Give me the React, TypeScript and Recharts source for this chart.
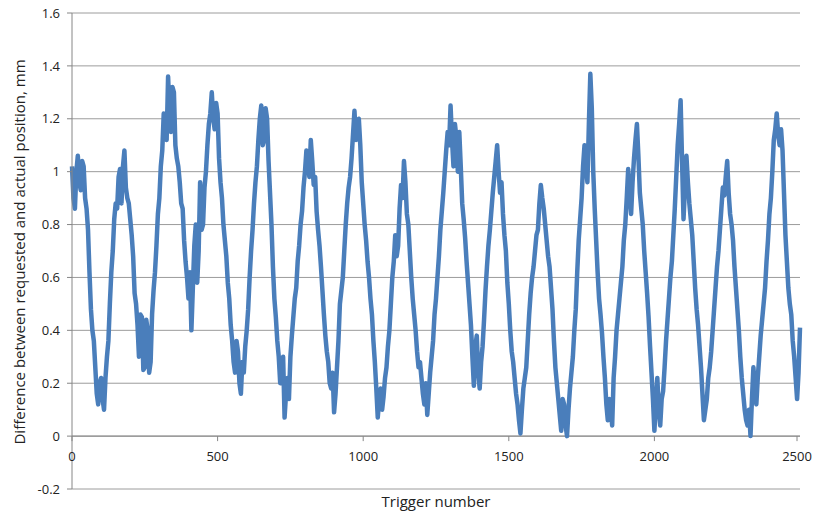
import { LineChart, Line, XAxis, YAxis, CartesianGrid } from 'recharts'

// ────────────────────────────────────────────────────────────────────────────
// Data — position error per trigger
// diffMm: readings at triggers 0, 10, 20 … 2500
// diffMidMm: readings in between, at triggers 5, 15, 25 … 2495
// ────────────────────────────────────────────────────────────────────────────

const TRIGGER_STEP = 10

// prettier-ignore
const diffMm = [
  1.02, 0.86, 1.06, 0.93, 1.02, 0.86, 0.62, 0.40, 0.26, 0.12, // 0
  0.22, 0.10, 0.30, 0.50, 0.70, 0.88, 0.98, 0.88, 1.08, 0.90, // 100
  0.82, 0.68, 0.50, 0.30, 0.45, 0.26, 0.40, 0.28, 0.55, 0.72, // 200
  0.90, 1.08, 1.18, 1.36, 1.15, 1.30, 1.05, 0.96, 0.86, 0.66, // 300
  0.52, 0.40, 0.72, 0.58, 0.96, 0.80, 1.00, 1.18, 1.30, 1.16, // 400
  1.22, 0.96, 0.80, 0.68, 0.52, 0.36, 0.24, 0.32, 0.16, 0.24, // 500
  0.40, 0.60, 0.78, 0.96, 1.12, 1.25, 1.12, 1.20, 0.92, 0.64, // 600
  0.45, 0.30, 0.22, 0.07, 0.22, 0.30, 0.45, 0.56, 0.72, 0.85, // 700
  1.00, 1.06, 1.12, 0.95, 0.85, 0.72, 0.55, 0.38, 0.28, 0.18, // 800
  0.09, 0.26, 0.50, 0.60, 0.80, 0.94, 1.05, 1.23, 1.18, 1.10, // 900
  0.88, 0.74, 0.60, 0.46, 0.28, 0.07, 0.18, 0.15, 0.26, 0.40, // 1000
  0.60, 0.76, 0.72, 0.95, 1.04, 0.84, 0.70, 0.52, 0.40, 0.26, // 1100
  0.22, 0.12, 0.08, 0.24, 0.36, 0.52, 0.68, 0.85, 1.00, 1.15, // 1200
  1.25, 1.02, 1.13, 1.15, 0.88, 0.75, 0.58, 0.42, 0.19, 0.38, // 1300
  0.18, 0.34, 0.55, 0.72, 0.85, 0.98, 1.10, 0.92, 0.84, 0.70, // 1400
  0.50, 0.32, 0.22, 0.12, 0.01, 0.18, 0.26, 0.46, 0.60, 0.70, // 1500
  0.78, 0.95, 0.86, 0.74, 0.64, 0.48, 0.26, 0.14, 0.02, 0.12, // 1600
  0.00, 0.18, 0.30, 0.48, 0.74, 0.90, 1.10, 0.96, 1.37, 1.00, // 1700
  0.74, 0.52, 0.39, 0.22, 0.06, 0.10, 0.22, 0.40, 0.52, 0.64, // 1800
  0.80, 1.01, 0.84, 1.05, 1.18, 0.92, 0.80, 0.62, 0.45, 0.24, // 1900
  0.02, 0.22, 0.04, 0.17, 0.36, 0.52, 0.66, 0.86, 1.10, 1.27, // 2000
  0.82, 1.06, 0.88, 0.76, 0.56, 0.42, 0.26, 0.06, 0.14, 0.26, // 2100
  0.40, 0.56, 0.70, 0.86, 0.91, 1.04, 0.84, 0.74, 0.56, 0.40, // 2200
  0.22, 0.10, 0.04, 0.00, 0.26, 0.12, 0.30, 0.44, 0.56, 0.74, // 2300
  0.90, 1.12, 1.22, 1.10, 1.08, 0.76, 0.56, 0.46, 0.30, 0.14, // 2400
  0.41,                                                       // 2500
]

// prettier-ignore
const diffMidMm = [
  0.90, 1.00, 0.96, 1.04, 0.90, 0.78, 0.48, 0.36, 0.16, 0.20, // 5
  0.14, 0.22, 0.36, 0.62, 0.82, 0.86, 1.01, 1.02, 0.94, 0.88, // 105
  0.76, 0.54, 0.42, 0.46, 0.25, 0.44, 0.24, 0.46, 0.62, 0.84, // 205
  1.02, 1.22, 1.12, 1.22, 1.32, 1.10, 1.02, 0.88, 0.74, 0.60, // 305
  0.62, 0.56, 0.80, 0.70, 0.78, 0.94, 1.10, 1.22, 1.20, 1.26, // 405
  1.05, 0.90, 0.74, 0.58, 0.42, 0.28, 0.36, 0.20, 0.28, 0.34, // 505
  0.48, 0.70, 0.88, 1.02, 1.20, 1.10, 1.24, 1.04, 0.80, 0.52, // 605
  0.36, 0.20, 0.30, 0.16, 0.14, 0.38, 0.52, 0.66, 0.80, 0.94, // 705
  1.08, 0.98, 1.04, 0.98, 0.78, 0.64, 0.46, 0.32, 0.20, 0.24, // 805
  0.16, 0.36, 0.55, 0.70, 0.88, 0.98, 1.14, 1.12, 1.20, 0.96, // 905
  0.80, 0.66, 0.52, 0.36, 0.18, 0.14, 0.10, 0.22, 0.34, 0.50, // 1005
  0.66, 0.68, 0.86, 0.90, 0.96, 0.80, 0.60, 0.46, 0.32, 0.28, // 1105
  0.16, 0.20, 0.16, 0.30, 0.46, 0.60, 0.78, 0.92, 1.08, 1.10, // 1205
  1.12, 1.18, 1.00, 1.02, 0.82, 0.66, 0.50, 0.30, 0.34, 0.24, // 1305
  0.28, 0.44, 0.64, 0.78, 0.92, 1.04, 1.00, 0.96, 0.76, 0.58, // 1405
  0.40, 0.28, 0.16, 0.06, 0.10, 0.22, 0.36, 0.54, 0.64, 0.76, // 1505
  0.88, 0.90, 0.80, 0.68, 0.56, 0.36, 0.20, 0.08, 0.14, 0.04, // 1605
  0.10, 0.24, 0.40, 0.62, 0.82, 1.02, 1.02, 1.18, 1.24, 0.86, // 1705
  0.62, 0.46, 0.30, 0.12, 0.14, 0.04, 0.30, 0.46, 0.58, 0.74, // 1805
  0.90, 0.92, 0.96, 1.12, 1.06, 0.86, 0.70, 0.54, 0.34, 0.14, // 1905
  0.12, 0.10, 0.14, 0.26, 0.44, 0.60, 0.76, 0.98, 1.18, 1.04, // 2005
  0.94, 0.96, 0.82, 0.66, 0.48, 0.34, 0.16, 0.10, 0.22, 0.32, // 2105
  0.48, 0.64, 0.78, 0.94, 0.98, 0.92, 0.80, 0.64, 0.48, 0.30, // 2205
  0.16, 0.06, 0.10, 0.14, 0.18, 0.22, 0.38, 0.50, 0.66, 0.84, // 2305
  1.00, 1.16, 1.14, 1.16, 0.92, 0.66, 0.50, 0.36, 0.22, 0.24, // 2405
]

const xTicks = [0, 500, 1000, 1500, 2000, 2500]
const yTicks = [-0.2, 0, 0.2, 0.4, 0.6, 0.8, 1, 1.2, 1.4, 1.6]

const data: { trigger: number; diff: number }[] = []
diffMm.forEach((v, i) => {
  data.push({ trigger: i * TRIGGER_STEP, diff: v })
  if (i < diffMidMm.length) {
    data.push({ trigger: i * TRIGGER_STEP + TRIGGER_STEP / 2, diff: diffMidMm[i] })
  }
})

// ────────────────────────────────────────────────────────────────────────────
// Layout
// ────────────────────────────────────────────────────────────────────────────

const W = 813
const H = 515
const PLOT_LEFT = 72
const PLOT_RIGHT = 800
const PLOT_TOP = 13
const PLOT_BOTTOM = 489
const Y_MIN = -0.2
const Y_MAX = 1.6
const ZERO_Y = PLOT_TOP + ((Y_MAX - 0) / (Y_MAX - Y_MIN)) * (PLOT_BOTTOM - PLOT_TOP)

const FONT = '"Open Sans", sans-serif'
const AXIS = '#868686'
const GRID = '#9c9c9c'
const LINE = '#4a7ebb'

// x ticks sit on the zero line, not at the bottom of the plot
// eslint-disable-next-line @typescript-eslint/no-explicit-any
function ZeroTick({ x, payload }: any) {
  return (
    <g>
      <line x1={x} x2={x} y1={ZERO_Y} y2={ZERO_Y + 5} stroke={AXIS} />
      <text x={x} y={ZERO_Y + 25} textAnchor="middle" fontSize={13} fontFamily={FONT} fill="#222">
        {payload.value}
      </text>
    </g>
  )
}

export default function App() {
  return (
    <div style={{ position: 'absolute', left: 0, top: 0, background: '#fff' }}>
      <LineChart
        width={W}
        height={H}
        data={data}
        margin={{ top: PLOT_TOP, right: W - PLOT_RIGHT, bottom: 0, left: 0 }}
      >
        <CartesianGrid vertical={false} stroke={GRID} />
        <XAxis
          dataKey="trigger"
          type="number"
          domain={[0, 2500]}
          ticks={xTicks}
          height={H - PLOT_BOTTOM}
          axisLine={false}
          tickLine={false}
          tick={<ZeroTick />}
          label={() => (
            <text x={436} y={507} textAnchor="middle" fontSize={15} fontFamily={FONT} fill="#222">
              Trigger number
            </text>
          )}
        />
        <YAxis
          type="number"
          domain={[Y_MIN, Y_MAX]}
          ticks={yTicks}
          width={PLOT_LEFT}
          stroke={AXIS}
          tickSize={5}
          tickMargin={7}
          tick={{ fontSize: 13, fontFamily: FONT, fill: '#222' }}
          label={() => (
            <text
              transform={`translate(25, 252) rotate(-90)`}
              textAnchor="middle"
              fontSize={15}
              fontFamily={FONT}
              fill="#222"
            >
              Difference between requested and actual position, mm
            </text>
          )}
        />
        <Line
          type="linear"
          dataKey="diff"
          stroke={LINE}
          strokeWidth={4.5}
          strokeLinejoin="round"
          dot={false}
          isAnimationActive={false}
        />
        {/* x axis line drawn at zero */}
        <line x1={PLOT_LEFT} x2={PLOT_RIGHT} y1={ZERO_Y} y2={ZERO_Y} stroke={AXIS} />
      </LineChart>
    </div>
  )
}
